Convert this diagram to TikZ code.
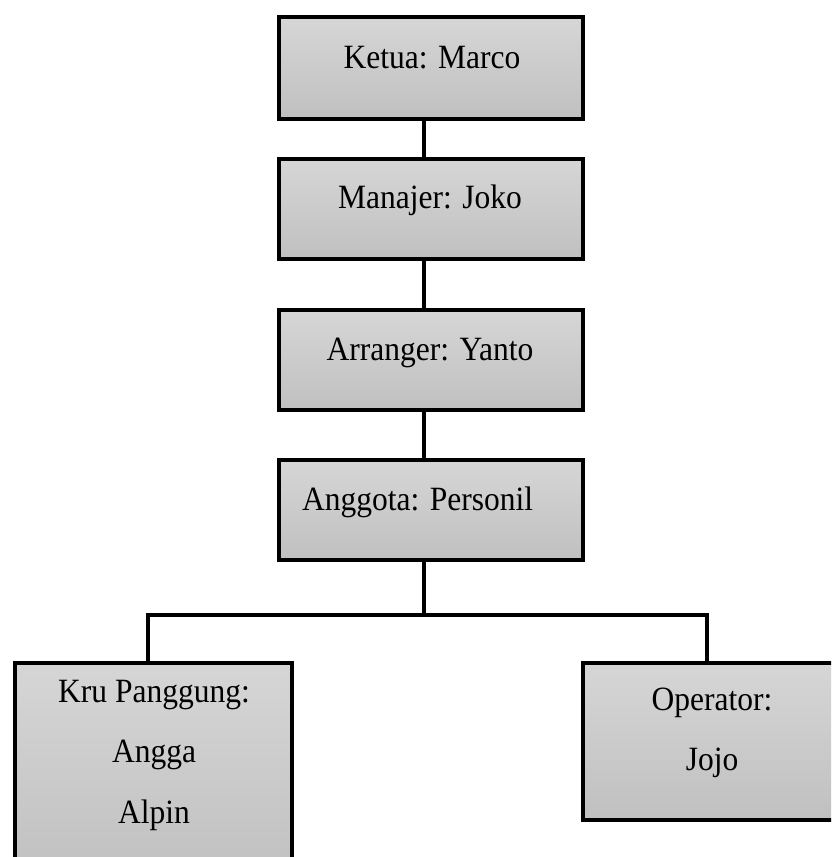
\documentclass[tikz,border=0pt]{standalone}
\usepackage{fontspec}
\setmainfont{Liberation Serif}
\definecolor{boxtop}{HTML}{D6D6D6}
\definecolor{boxbot}{HTML}{C0C0C0}
\newcommand{\vst}[1]{\scalebox{1}[1.08]{#1}}
\tikzset{
  orgbox/.style={draw=black, line width=4pt, rectangle, top color=boxtop, bottom color=boxbot, inner sep=0pt},
  lbl/.style={anchor=base, inner sep=0pt, font=\fontsize{31.5}{36}\selectfont},
  conn/.style={draw=black, line width=3.5pt}
}
\begin{document}
\begin{tikzpicture}[x=1pt,y=-1pt]
\useasboundingbox (0,0) rectangle (831,857);
\clip (0,0) rectangle (831,857);
\fill[white] (0,0) rectangle (831,857);
% boxes
\node[orgbox, minimum width=304pt, minimum height=102pt] (b1) at (431,67.5) {};
\node[orgbox, minimum width=304pt, minimum height=100pt] (b2) at (431,208.5) {};
\node[orgbox, minimum width=304pt, minimum height=100pt] (b3) at (431,360) {};
\node[orgbox, minimum width=304pt, minimum height=100pt] (b4) at (431,510) {};
\node[orgbox, minimum width=277pt, minimum height=220pt] (b5) at (153.5,773) {};
\node[orgbox, minimum width=258pt, minimum height=157pt] (b6) at (712,741.5) {};
% texts
\node[lbl] (t1) at (432,68) {\vst{Ketua: Marco}};
\node[lbl] (t2) at (430,208) {\vst{Manajer: Joko}};
\node[lbl] (t3) at (430,360) {\vst{Arranger: Yanto}};
\node[lbl, anchor=base west] (t4) at (302,510) {\vst{Anggota: Personil}};
\node[lbl] (t5a) at (154,702) {\vst{Kru Panggung:}};
\node[lbl] (t5b) at (154,762) {\vst{Angga}};
\node[lbl] (t5c) at (154,823) {\vst{Alpin}};
\node[lbl] (t6a) at (712,710) {\vst{Operator:}};
\node[lbl] (t6b) at (712,770) {\vst{Jojo}};
% connectors
\coordinate (cx) at (424,0);
\coordinate (bus) at (424,615);
\coordinate (lx) at (148,615);
\coordinate (rx) at (707,615);
\draw[conn] (b1.south -| cx) -- (b2.north -| cx);
\draw[conn] (b2.south -| cx) -- (b3.north -| cx);
\draw[conn] (b3.south -| cx) -- (b4.north -| cx);
\draw[conn] (b4.south -| cx) -- (bus);
\draw[conn] (b5.north -| lx) -- (lx) -- (rx) -- (b6.north -| rx);
\end{tikzpicture}
\end{document}
